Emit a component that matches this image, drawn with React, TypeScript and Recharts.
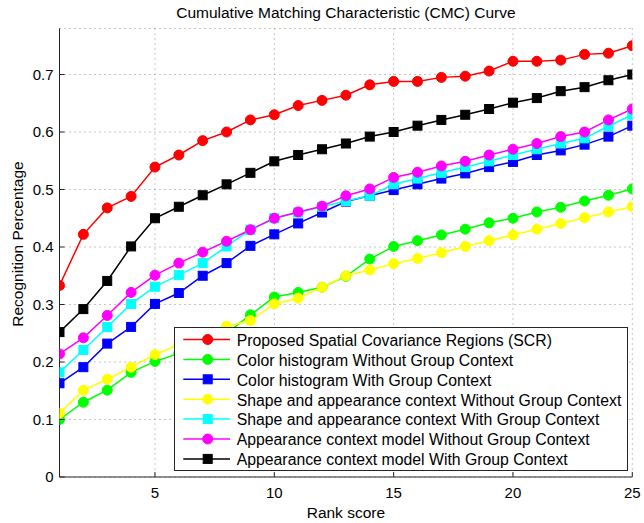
import React from 'react';
import { LineChart, Line, XAxis, YAxis, CartesianGrid, Legend } from 'recharts';

const ranks = [1, 2, 3, 4, 5, 6, 7, 8, 9, 10, 11, 12, 13, 14, 15, 16, 17, 18, 19, 20, 21, 22, 23, 24, 25];
const xTicks = [5, 10, 15, 20, 25];
const yTicks = [0, 0.1, 0.2, 0.3, 0.4, 0.5, 0.6, 0.7];

const scr = [0.333, 0.422, 0.468, 0.488, 0.539, 0.56, 0.585, 0.6, 0.621, 0.63, 0.646, 0.655, 0.664, 0.682, 0.688, 0.688, 0.695, 0.697, 0.706, 0.723, 0.723, 0.725, 0.735, 0.737, 0.75];
const colorNoGroup = [0.1, 0.13, 0.151, 0.182, 0.201, 0.215, 0.235, 0.25, 0.282, 0.313, 0.321, 0.33, 0.349, 0.379, 0.401, 0.411, 0.421, 0.431, 0.442, 0.45, 0.461, 0.469, 0.48, 0.49, 0.501];
const colorGroup = [0.163, 0.191, 0.232, 0.261, 0.301, 0.32, 0.35, 0.372, 0.402, 0.422, 0.441, 0.46, 0.479, 0.489, 0.499, 0.509, 0.519, 0.528, 0.539, 0.548, 0.56, 0.568, 0.578, 0.592, 0.611];
const shapeNoGroup = [0.111, 0.151, 0.17, 0.191, 0.213, 0.23, 0.245, 0.262, 0.272, 0.301, 0.311, 0.33, 0.35, 0.36, 0.371, 0.38, 0.39, 0.401, 0.411, 0.421, 0.431, 0.441, 0.451, 0.461, 0.47];
const shapeGroup = [0.182, 0.221, 0.261, 0.301, 0.331, 0.351, 0.372, 0.401, 0.43, 0.45, 0.46, 0.47, 0.48, 0.489, 0.509, 0.519, 0.529, 0.539, 0.549, 0.56, 0.57, 0.58, 0.589, 0.61, 0.63];
const appNoGroup = [0.214, 0.242, 0.281, 0.321, 0.351, 0.372, 0.391, 0.41, 0.43, 0.45, 0.461, 0.471, 0.489, 0.501, 0.521, 0.53, 0.541, 0.549, 0.56, 0.57, 0.58, 0.592, 0.6, 0.621, 0.64];
const appGroup = [0.252, 0.292, 0.341, 0.401, 0.45, 0.47, 0.49, 0.509, 0.529, 0.549, 0.56, 0.57, 0.58, 0.592, 0.6, 0.611, 0.621, 0.63, 0.64, 0.651, 0.659, 0.671, 0.678, 0.69, 0.7];

const seriesNames = [
  'Proposed Spatial Covariance Regions (SCR)',
  'Color histogram Without Group Context',
  'Color histogram With Group Context',
  'Shape and appearance context Without Group Context',
  'Shape and appearance context With Group Context',
  'Appearance context model Without Group Context',
  'Appearance context model With Group Context',
];
const seriesValues = [scr, colorNoGroup, colorGroup, shapeNoGroup, shapeGroup, appNoGroup, appGroup];
const seriesColors = ['#ff0000', '#00ff00', '#0000ff', '#ffff00', '#00ffff', '#ff00ff', '#000000'];
const seriesMarkers = ['circle', 'circle', 'square', 'circle', 'square', 'circle', 'square'];

const data = ranks.map((r, i) => {
  const row: any = { rank: r };
  seriesValues.forEach((vals, k) => {
    row['s' + k] = vals[i];
  });
  return row;
});

const W = 636;
const H = 515;
const PLOT_LEFT = 51.5;
const PLOT_RIGHT = 624.3;
const PLOT_TOP = 20.5;
const PLOT_BOTTOM = 469;
const FONT = '"Liberation Sans", Arial, Helvetica, sans-serif';
const AX = '#262626';
const TICK_LEN = 5;

const BottomTick = (props: any) => {
  const { x, y, payload } = props;
  return (
    <g>
      <line x1={x} x2={x} y1={PLOT_BOTTOM} y2={PLOT_BOTTOM - TICK_LEN} stroke={AX} />
      <text x={x} y={y} dy="0.71em" textAnchor="middle" fill="#000" fontSize={15} fontFamily={FONT}>
        {payload.value}
      </text>
    </g>
  );
};

const TopTick = (props: any) => {
  const { x } = props;
  return <line x1={x} x2={x} y1={PLOT_TOP} y2={PLOT_TOP + TICK_LEN} stroke={AX} />;
};

const LeftTick = (props: any) => {
  const { x, y, payload } = props;
  const v = payload.value;
  return (
    <g>
      <line x1={PLOT_LEFT} x2={PLOT_LEFT + TICK_LEN} y1={y} y2={y} stroke={AX} />
      <text x={x} y={y} dy="0.355em" textAnchor="end" fill="#000" fontSize={15} fontFamily={FONT}>
        {v === 0 ? '0' : v.toFixed(1)}
      </text>
    </g>
  );
};

const RightTick = (props: any) => {
  const { y } = props;
  return <line x1={PLOT_RIGHT} x2={PLOT_RIGHT - TICK_LEN} y1={y} y2={y} stroke={AX} />;
};

const makeSquareDot = (color: string) => (props: any) => {
  const { cx, cy, index } = props;
  if (cx == null || cy == null) return <g key={'e' + index} />;
  return (
    <rect key={'sq' + index} x={cx - 4.5} y={cy - 4.5} width={9} height={9} fill={color} stroke={color} strokeWidth={1} />
  );
};

const LEG_W = 454;
const LEG_H = 144;

const LegendBox = () => (
  <svg width={LEG_W} height={LEG_H} style={{ display: 'block' }}>
    <rect x={0.5} y={0.5} width={LEG_W - 1} height={LEG_H - 1} fill="#ffffff" stroke={AX} strokeWidth={1} />
    {seriesNames.map((name, i) => {
      const cy = 12.5 + 19.9 * i;
      const c = seriesColors[i];
      return (
        <g key={name}>
          <line x1={9.3} x2={56} y1={cy} y2={cy} stroke={c} strokeWidth={1.5} />
          {seriesMarkers[i] === 'circle' ? (
            <circle cx={33.7} cy={cy} r={5} fill={c} stroke={c} strokeWidth={1} />
          ) : (
            <rect x={33.7 - 4.5} y={cy - 4.5} width={9} height={9} fill={c} stroke={c} strokeWidth={1} />
          )}
          <text x={62.7} y={cy + 6.3} fontSize={15.8} fontFamily={FONT} fill="#000">
            {name}
          </text>
        </g>
      );
    })}
  </svg>
);

export default function App() {
  return (
    <div style={{ position: 'absolute', left: 0, top: 0, width: 644, height: 523, overflow: 'hidden' }}>
      <div style={{ position: 'absolute', left: 8, top: 8, width: W, height: H, fontFamily: FONT }}>
        <div
          style={{
            position: 'absolute',
            left: PLOT_LEFT,
            width: PLOT_RIGHT - PLOT_LEFT,
            top: -4,
            lineHeight: '18px',
            textAlign: 'center',
            fontSize: 15.5,
            color: '#000',
            whiteSpace: 'nowrap',
            zIndex: 2,
          }}
        >
          Cumulative Matching Characteristic (CMC) Curve
        </div>
        <div
          style={{
            position: 'absolute',
            left: 10.3,
            top: 235.5,
            transform: 'translate(-50%, -50%) rotate(-90deg)',
            lineHeight: '18px',
            fontSize: 15.5,
            color: '#000',
            whiteSpace: 'nowrap',
            zIndex: 2,
          }}
        >
          Recognition Percentage
        </div>
        <div
          style={{
            position: 'absolute',
            left: PLOT_LEFT,
            width: PLOT_RIGHT - PLOT_LEFT,
            top: 496,
            lineHeight: '18px',
            textAlign: 'center',
            fontSize: 15.5,
            color: '#000',
            whiteSpace: 'nowrap',
            zIndex: 2,
          }}
        >
          Rank score
        </div>
        <LineChart
          width={W}
          height={H}
          data={data}
          style={{ overflow: 'visible' }}
          margin={{ top: PLOT_TOP, right: W - PLOT_RIGHT, bottom: 0, left: PLOT_LEFT - 42 }}
        >
          <CartesianGrid xAxisId="b" yAxisId="l" stroke="#8c8c8c" strokeDasharray="1 4" />
          <XAxis
            xAxisId="b"
            dataKey="rank"
            type="number"
            domain={[1, 25]}
            ticks={xTicks}
            interval={0}
            height={H - PLOT_BOTTOM}
            axisLine={{ stroke: AX }}
            tickLine={false}
            tickMargin={4}
            tick={BottomTick}
            allowDataOverflow
          />
          <XAxis
            xAxisId="t"
            orientation="top"
            dataKey="rank"
            type="number"
            domain={[1, 25]}
            ticks={xTicks}
            interval={0}
            height={0}
            axisLine={{ stroke: AX }}
            tickLine={false}
            tick={TopTick}
            allowDataOverflow
          />
          <YAxis
            yAxisId="l"
            type="number"
            domain={[0, 0.78]}
            ticks={yTicks}
            interval={0}
            width={42}
            axisLine={{ stroke: AX }}
            tickLine={false}
            tickMargin={0}
            tick={LeftTick}
            allowDataOverflow
          />
          <YAxis
            yAxisId="r"
            orientation="right"
            type="number"
            domain={[0, 0.78]}
            ticks={yTicks}
            interval={0}
            width={0}
            axisLine={{ stroke: AX }}
            tickLine={false}
            tick={RightTick}
            allowDataOverflow
          />
          {seriesNames.map((name, k) => (
            <Line
              key={name}
              xAxisId="b"
              yAxisId="l"
              type="linear"
              dataKey={'s' + k}
              name={name}
              stroke={seriesColors[k]}
              strokeWidth={1.5}
              isAnimationActive={false}
              dot={
                seriesMarkers[k] === 'circle'
                  ? { r: 5, fill: seriesColors[k], stroke: seriesColors[k], strokeWidth: 1 }
                  : makeSquareDot(seriesColors[k])
              }
              activeDot={false}
            />
          ))}
          <Legend
            layout="horizontal"
            verticalAlign="middle"
            align="center"
            wrapperStyle={{ position: 'absolute', left: 166, top: 319, width: LEG_W, height: LEG_H }}
            content={() => <LegendBox />}
          />
        </LineChart>
      </div>
    </div>
  );
}
